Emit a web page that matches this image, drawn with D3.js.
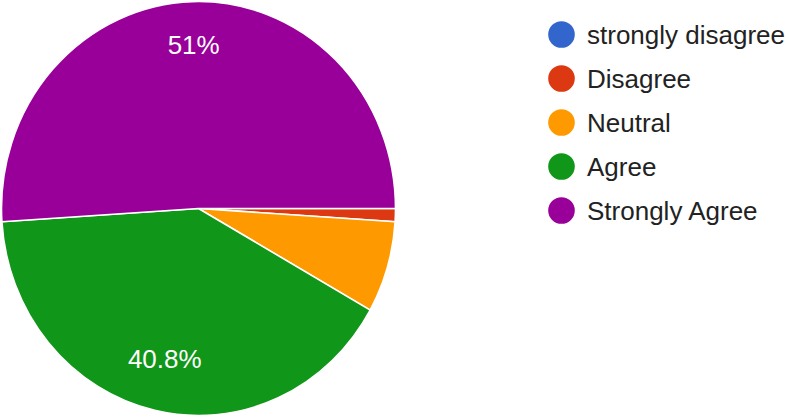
<!DOCTYPE html>
<html>
<head>
<meta charset="utf-8">
<script src="https://cdn.jsdelivr.net/npm/d3@7"></script>
<style>
  html, body { margin: 0; padding: 0; background: #fff; }
  svg { display: block; }
  text { font-family: Arial, "Liberation Sans", sans-serif; }
</style>
</head>
<body>
<script>
const categories = ["strongly disagree", "Disagree", "Neutral", "Agree", "Strongly Agree"];
const counts = [0, 1, 7, 40, 50];
const colors = ["#3366cc", "#dc3912", "#ff9900", "#109618", "#990099"];

const W = 789, H = 417;
const cx = 198.5, cy = 208.5, rx = 197, ry = 207;

const svg = d3.select("body").append("svg").attr("width", W).attr("height", H);

const total = d3.sum(counts);
const data = categories.map((c, i) => ({ name: c, value: counts[i], color: colors[i] }));

const pie = d3.pie().value(d => d.value).sort(null)
  .startAngle(Math.PI / 2).endAngle(Math.PI / 2 + 2 * Math.PI);
const arcs = pie(data);

const arc = d3.arc().innerRadius(0).outerRadius(ry);
const labelArc = d3.arc().innerRadius(ry * 0.77).outerRadius(ry * 0.77);

const g = svg.append("g").attr("transform", `translate(${cx},${cy}) scale(${rx / ry},1)`);

g.selectAll("path.slice").data(arcs.filter(d => d.value > 0)).join("path")
  .attr("class", "slice")
  .attr("d", arc)
  .attr("fill", d => d.data.color)
  .attr("stroke", "#fff")
  .attr("stroke-width", 1.6)
  .attr("vector-effect", "non-scaling-stroke");

const fmt = p => (Math.round(p * 10) / 10) + "%";

const lg = svg.append("g").attr("transform", `translate(${cx},${cy})`);
lg.selectAll("text").data(arcs.filter(d => d.value / total >= 0.1)).join("text")
  .attr("x", d => labelArc.centroid(d)[0] * rx / ry)
  .attr("y", d => labelArc.centroid(d)[1])
  .attr("dy", "0.17em")
  .attr("text-anchor", "middle")
  .attr("fill", "#fff")
  .attr("font-size", 26)
  .text(d => fmt(d.value / total * 100));

// Legend
const legendY = d3.scalePoint().domain(categories).range([34.5, 210.5]);
const leg = svg.append("g");
const items = leg.selectAll("g").data(data).join("g")
  .attr("transform", d => `translate(561.5,${legendY(d.name)})`);
items.append("circle").attr("r", 13.3).attr("fill", d => d.color);
items.append("text")
  .attr("x", 25.5)
  .attr("y", 9.8)
  .attr("font-size", 26)
  .attr("fill", "#222")
  .text(d => d.name);
</script>
</body>
</html>
